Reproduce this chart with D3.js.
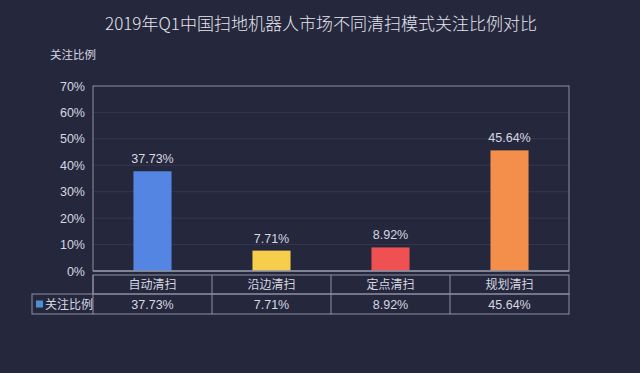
<!DOCTYPE html>
<html>
<head>
<meta charset="utf-8">
<script src="https://cdn.jsdelivr.net/npm/d3@7"></script>
<style>
  body { margin: 0; background: #25273d; }
  text { font-family: "Noto Sans CJK SC", "Noto Sans", sans-serif; }
</style>
</head>
<body>
<svg></svg>
<script>
const categories = ["自动清扫", "沿边清扫", "定点清扫", "规划清扫"]
const values = [37.73, 7.71, 8.92, 45.64]
const barColors = ["#5485e3", "#f7cd4c", "#ef5052", "#f48f4b"]
const yTicks = [0, 10, 20, 30, 40, 50, 60, 70]
const seriesName = "关注比例"
const title = "2019年Q1中国扫地机器人市场不同清扫模式关注比例对比"

const width = 640, height = 373
const plot = {left: 93, right: 569, top: 86, bottom: 271}
const lineColor = "#8d90a6"
const textColor = "#d6d7e0"
const numFont = "'Liberation Sans', sans-serif"

let svg = d3.select("svg")
    .attr("width", width)
    .attr("height", height)

svg.append("rect")
    .attr("width", width).attr("height", height)
    .attr("fill", "#25273d")

// title
svg.append("text")
    .attr("x", 321).attr("y", 30)
    .attr("text-anchor", "middle")
    .attr("font-size", 17)
    .attr("font-weight", 300)
    .attr("fill", "#e4e5ec")
    .text(title)

// axis title
svg.append("text")
    .attr("x", 50).attr("y", 59)
    .attr("font-size", 11.5)
    .attr("fill", textColor)
    .text(seriesName)

let x = d3.scaleBand()
    .domain(categories)
    .range([plot.left, plot.right])
    .paddingInner(0).paddingOuter(0)

let y = d3.scaleLinear()
    .domain([0, 70])
    .range([plot.bottom, plot.top])

// grid lines
svg.append("g")
    .selectAll("line")
    .data(yTicks.slice(1, -1))
    .enter()
    .append("line")
    .attr("x1", plot.left).attr("x2", plot.right)
    .attr("y1", d => y(d)).attr("y2", d => y(d))
    .attr("stroke", "#34374f")
    .attr("stroke-width", 1)

// y axis labels
let yAxis = svg.append("g")
    .attr("transform", `translate(${plot.left},0)`)
    .call(d3.axisLeft(y).tickValues(yTicks).tickFormat(d => d + "%").tickSize(0).tickPadding(8))
yAxis.select(".domain").remove()
yAxis.selectAll("text")
    .attr("fill", textColor)
    .attr("font-size", 12.5)
    .style("font-family", numFont)

// plot border
svg.append("rect")
    .attr("x", plot.left).attr("y", plot.top)
    .attr("width", plot.right - plot.left)
    .attr("height", plot.bottom - plot.top)
    .attr("fill", "none")
    .attr("stroke", lineColor)
    .attr("stroke-width", 1)

// bars
const barW = x.bandwidth() * 0.32
svg.append("g")
    .selectAll("rect")
    .data(values)
    .enter()
    .append("rect")
    .attr("x", (d, i) => x(categories[i]) + x.bandwidth() / 2 - barW / 2)
    .attr("y", d => y(d))
    .attr("width", barW)
    .attr("height", d => y(0) - y(d))
    .attr("fill", (d, i) => barColors[i])

// value labels
svg.append("g")
    .selectAll("text")
    .data(values)
    .enter()
    .append("text")
    .attr("x", (d, i) => x(categories[i]) + x.bandwidth() / 2)
    .attr("y", d => y(d) - 8)
    .attr("text-anchor", "middle")
    .attr("font-size", 12.5)
    .attr("fill", textColor)
    .style("font-family", numFont)
    .text(d => d.toFixed(2) + "%")

// thicker baseline
svg.append("line")
    .attr("x1", plot.left).attr("x2", plot.right)
    .attr("y1", plot.bottom).attr("y2", plot.bottom)
    .attr("stroke", lineColor).attr("stroke-width", 1.5)

// data table
const row1 = {top: 275, bottom: 294}
const row2 = {top: 294, bottom: 314}
const legendLeft = 32
let tbl = svg.append("g")

// outer frames
tbl.append("rect")
    .attr("x", plot.left).attr("y", row1.top)
    .attr("width", plot.right - plot.left).attr("height", row1.bottom - row1.top)
    .attr("fill", "none").attr("stroke", lineColor)
tbl.append("rect")
    .attr("x", legendLeft).attr("y", row2.top)
    .attr("width", plot.right - legendLeft).attr("height", row2.bottom - row2.top)
    .attr("fill", "none").attr("stroke", lineColor)

// column dividers
tbl.selectAll("line.col")
    .data(categories)
    .enter()
    .append("line")
    .attr("class", "col")
    .attr("x1", d => x(d)).attr("x2", d => x(d))
    .attr("y1", row1.top).attr("y2", row2.bottom)
    .attr("stroke", lineColor)

// category labels
tbl.selectAll("text.cat")
    .data(categories)
    .enter()
    .append("text")
    .attr("class", "cat")
    .attr("x", d => x(d) + x.bandwidth() / 2)
    .attr("y", (row1.top + row1.bottom) / 2 + 4.5)
    .attr("text-anchor", "middle")
    .attr("font-size", 12)
    .attr("fill", textColor)
    .text(d => d)

// value cells
tbl.selectAll("text.val")
    .data(values)
    .enter()
    .append("text")
    .attr("class", "val")
    .attr("x", (d, i) => x(categories[i]) + x.bandwidth() / 2)
    .attr("y", (row2.top + row2.bottom) / 2 + 4.5)
    .attr("text-anchor", "middle")
    .attr("font-size", 12.5)
    .attr("fill", textColor)
    .style("font-family", numFont)
    .text(d => d.toFixed(2) + "%")

// legend cell
tbl.append("rect")
    .attr("x", legendLeft + 4).attr("y", (row2.top + row2.bottom) / 2 - 3.5)
    .attr("width", 7).attr("height", 7)
    .attr("fill", "#4f8fd4")
tbl.append("text")
    .attr("x", legendLeft + 13)
    .attr("y", (row2.top + row2.bottom) / 2 + 4.5)
    .attr("font-size", 12)
    .attr("fill", textColor)
    .text(seriesName)
</script>
</body>
</html>
